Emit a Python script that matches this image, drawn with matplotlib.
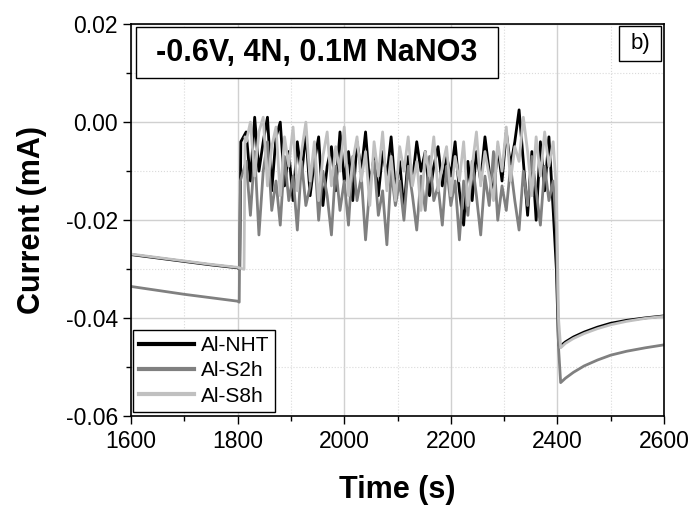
import numpy as np
import matplotlib
matplotlib.use("Agg")
import matplotlib.pyplot as plt
from matplotlib.patches import Rectangle
from matplotlib.ticker import MultipleLocator, FormatStrFormatter

plt.rcParams['font.family'] = ['Liberation Sans', 'DejaVu Sans']
plt.rcParams['axes.unicode_minus'] = False

# before the potential step (shared time axis)
t_pre = [1600, 1650, 1700, 1750, 1800]
nht_pre = [-0.0270, -0.0277, -0.0284, -0.0291, -0.0297]
s2h_pre = [-0.0335, -0.0343, -0.0351, -0.0358, -0.0365]
s8h_pre = [-0.0269, -0.0276, -0.0283, -0.0290, -0.0296]

# jump points (each sample switches at a slightly different time)
nht_jump_t = [1804, 1806]
nht_jump_v = [-0.0300, -0.004]
s2h_jump_t = [1803, 1805]
s2h_jump_v = [-0.0367, -0.012]
s8h_jump_t = [1812, 1814]
s8h_jump_v = [-0.0300, -0.003]

# noisy region, one reading every 8 s
t_noise = list(range(1816, 2393, 8))
nht_noise = [
    -0.002, -0.012, 0.001, -0.010, -0.004, 0.001, -0.014, -0.003, 0.000, -0.013,
    -0.006, -0.016, -0.004, -0.011, -0.002, -0.015, -0.008, -0.003, -0.017, -0.009,
    -0.005, -0.014, -0.002, -0.012, -0.006, -0.016, -0.004, -0.010, -0.002, -0.013,
    -0.007, -0.015, -0.006, -0.011, -0.003, -0.014, -0.008, -0.018, -0.007, -0.012,
    -0.004, -0.010, -0.006, -0.015, -0.009, -0.005, -0.013, -0.007, -0.011, -0.004,
    -0.014, -0.021, -0.008, -0.016, -0.006, -0.012, -0.003, -0.010, -0.015, -0.005,
    -0.012, -0.002, -0.009, -0.004, 0.0025, -0.008, -0.019, -0.006, -0.020, -0.004,
    -0.014, -0.003, -0.018,
]
s2h_noise = [
    -0.008, -0.019, -0.006, -0.023, -0.010, -0.004, -0.018, -0.012, -0.021, -0.007,
    -0.016, -0.011, -0.022, -0.008, -0.017, -0.013, -0.006, -0.020, -0.010, -0.015,
    -0.023, -0.009, -0.018, -0.012, -0.021, -0.007, -0.016, -0.011, -0.024, -0.013,
    -0.008, -0.019, -0.014, -0.025, -0.010, -0.017, -0.012, -0.020, -0.009, -0.015,
    -0.022, -0.011, -0.018, -0.007, -0.016, -0.013, -0.021, -0.009, -0.017, -0.012,
    -0.024, -0.012, -0.019, -0.008, -0.015, -0.023, -0.011, -0.017, -0.006, -0.020,
    -0.013, -0.018, -0.009, -0.016, -0.022, -0.010, -0.017, -0.007, -0.014, -0.021,
    -0.009, -0.016, -0.012,
]
s8h_noise = [
    -0.004, 0.000, -0.011, -0.002, 0.001, -0.013, -0.005, -0.001, -0.015, -0.003,
    -0.009, -0.001, -0.014, -0.006, 0.000, -0.012, -0.004, -0.016, -0.007, -0.002,
    -0.013, -0.005, -0.010, -0.001, -0.015, -0.008, -0.003, -0.012, -0.006, -0.017,
    -0.004, -0.011, -0.002, -0.014, -0.007, -0.016, -0.005, -0.010, -0.003, -0.013,
    -0.008, -0.018, -0.006, -0.011, -0.003, -0.014, -0.009, -0.005, -0.015, -0.007,
    -0.012, -0.004, -0.017, -0.009, -0.002, -0.013, -0.006, -0.011, -0.016, -0.004,
    -0.010, -0.001, -0.012, -0.005, -0.008, 0.001, -0.006, -0.015, -0.003, -0.011,
    -0.002, -0.009, -0.004,
]

# after switching off: drop and slow recovery
t_post = [2398, 2402, 2406, 2415, 2430, 2450, 2475, 2500, 2530, 2565, 2600]
nht_post = [-0.030, -0.0455, -0.0456, -0.0448, -0.0438, -0.0428, -0.0418, -0.0410, -0.0404, -0.0399, -0.0395]
s2h_post = [-0.022, -0.046, -0.0531, -0.0522, -0.0510, -0.0497, -0.0485, -0.0475, -0.0467, -0.0460, -0.0454]
s8h_post = [-0.014, -0.040, -0.0460, -0.0451, -0.0441, -0.0431, -0.0421, -0.0413, -0.0406, -0.0400, -0.0396]

series = [
    ('Al-NHT', '#000000', nht_pre, nht_jump_t, nht_jump_v, nht_noise, nht_post),
    ('Al-S2h', '#808080', s2h_pre, s2h_jump_t, s2h_jump_v, s2h_noise, s2h_post),
    ('Al-S8h', '#c0c0c0', s8h_pre, s8h_jump_t, s8h_jump_v, s8h_noise, s8h_post),
]

fig = plt.figure(figsize=(6.95, 5.11), dpi=100)
ax = fig.add_axes([0.1885, 0.185, 0.767, 0.768])

for name, color, pre, jt, jv, noise, post in series:
    t = t_pre + jt + t_noise + t_post
    v = pre + jv + noise + post
    ax.plot(t, v, color=color, lw=2.0, label=name)

ax.set_xlim(1600, 2600)
ax.set_ylim(-0.06, 0.02)
ax.xaxis.set_major_locator(MultipleLocator(200))
ax.xaxis.set_minor_locator(MultipleLocator(100))
ax.yaxis.set_major_locator(MultipleLocator(0.02))
ax.yaxis.set_minor_locator(MultipleLocator(0.01))
ax.yaxis.set_major_formatter(FormatStrFormatter('%.2f'))

ax.grid(which='major', color='#d0d0d0', lw=1.0, ls='-')
ax.grid(which='minor', color='#dadada', lw=0.8, ls=':')
ax.set_axisbelow(True)

ax.tick_params(which='major', direction='out', length=6, width=1, labelsize=16.5, pad=3.5)
ax.tick_params(which='minor', direction='out', length=3.5, width=1)
for s in ax.spines.values():
    s.set_linewidth(1.2)

ax.set_xlabel('Time (s)', fontsize=22, fontweight='bold')
ax.set_ylabel('Current (mA)', fontsize=22, fontweight='bold')
ax.xaxis.set_label_coords(0.5, -0.148)
ax.yaxis.set_label_coords(-0.158, 0.5)

# condition box, top left
ax.add_patch(Rectangle((0.0094, 0.8624), 0.6792, 0.13, transform=ax.transAxes,
                       fc='white', ec='black', lw=1.0, zorder=5))
ax.text(0.349, 0.927, '-0.6V, 4N, 0.1M NaNO3', transform=ax.transAxes,
        fontsize=22, fontweight='bold', ha='center', va='center', zorder=6)

# panel label, top right
ax.add_patch(Rectangle((0.9156, 0.9057), 0.0788, 0.0905, transform=ax.transAxes,
                       fc='white', ec='black', lw=1.0, zorder=5))
ax.text(0.955, 0.951, 'b)', transform=ax.transAxes, fontsize=16,
        ha='center', va='center', zorder=6)

leg = ax.legend(loc='lower left', bbox_to_anchor=(0.0038, 0.012), fontsize=15,
                frameon=True, fancybox=False, edgecolor='black', framealpha=1,
                handlelength=2.65, borderaxespad=0, borderpad=0.3,
                labelspacing=0.3, handletextpad=0.3)
leg.get_frame().set_linewidth(1.0)
for line in leg.get_lines():
    line.set_linewidth(3.0)

fig.savefig('out.png', dpi=100)
